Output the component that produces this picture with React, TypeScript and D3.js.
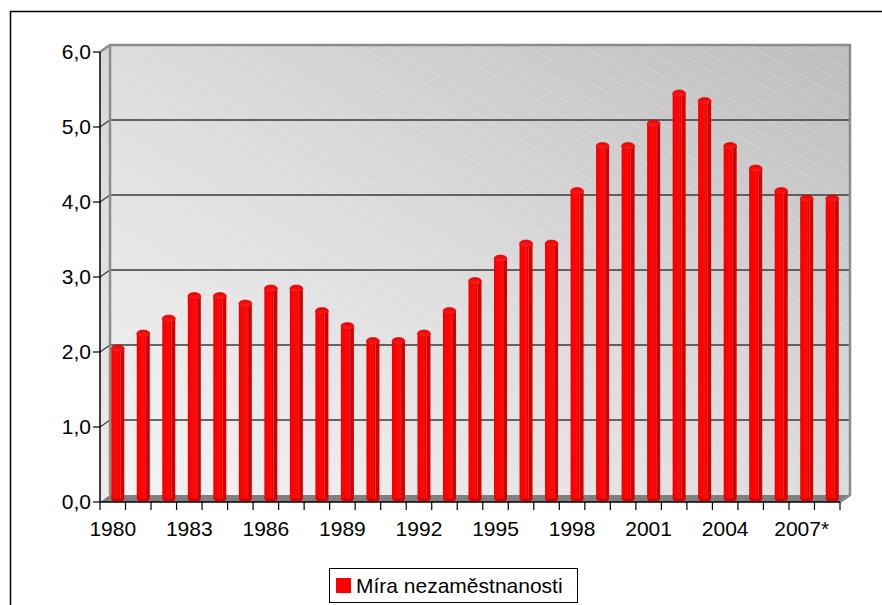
import React from "react";
import * as d3 from "d3";

const categories = [
  "1980","1981","1982","1983","1984","1985","1986","1987","1988","1989",
  "1990","1991","1992","1993","1994","1995","1996","1997","1998","1999",
  "2000","2001","2002","2003","2004","2005","2006","2007*","2008*",
];
const values = [
  2.0, 2.2, 2.4, 2.7, 2.7, 2.6, 2.8, 2.8, 2.5, 2.3,
  2.1, 2.1, 2.2, 2.5, 2.9, 3.2, 3.4, 3.4, 4.1, 4.7,
  4.7, 5.0, 5.4, 5.3, 4.7, 4.4, 4.1, 4.0, 4.0,
];
const yTicks = [0, 1, 2, 3, 4, 5, 6];
const seriesName = "Míra nezaměstnanosti";

const W = 882;
const H = 605;
const X0 = 100;
const X1 = 840;
const Y0 = 502;
const Y1 = 52;
const DX = 10;
const DY = -7;
const FONT = "'Liberation Sans', Arial, Helvetica, sans-serif";

export default function App() {
  const x = d3.scaleBand<string>().domain(categories).range([X0, X1]).padding(0);
  const y = d3.scaleLinear().domain([0, 6]).range([Y0, Y1]);
  const bw = x.bandwidth();
  const barW = 13;
  const rx = barW / 2;
  const ry = 3.5;
  const fmt = (v: number) => v.toFixed(1).replace(".", ",");

  return (
    <svg
      width={W}
      height={H}
      style={{ position: "absolute", left: 0, top: 0, display: "block", background: "#fff" }}
      fontFamily={FONT}
    >
      <defs>
        <linearGradient id="wallGrad" x1="0" y1="1" x2="1" y2="0">
          <stop offset="0" stopColor="#f4f4f4" />
          <stop offset="0.5" stopColor="#dcdcdc" />
          <stop offset="1" stopColor="#bebebe" />
        </linearGradient>
        <linearGradient id="sideGrad" x1="0" y1="1" x2="0" y2="0">
          <stop offset="0" stopColor="#ececec" />
          <stop offset="1" stopColor="#d6d6d6" />
        </linearGradient>
        <pattern
          id="hatch"
          patternUnits="userSpaceOnUse"
          width="40"
          height="14"
          patternTransform="rotate(30)"
        >
          <line x1="0" y1="0.5" x2="40" y2="0.5" stroke="#ffffff" strokeOpacity="0.3" strokeWidth="1" strokeDasharray="3 2" />
        </pattern>
        <linearGradient id="barGrad" x1="0" y1="0" x2="1" y2="0">
          <stop offset="0" stopColor="#e00000" />
          <stop offset="0.12" stopColor="#ff0000" />
          <stop offset="0.58" stopColor="#ff0a0a" />
          <stop offset="0.62" stopColor="#d20000" />
          <stop offset="0.7" stopColor="#e63a3a" />
          <stop offset="0.76" stopColor="#d00000" />
          <stop offset="1" stopColor="#dc0000" />
        </linearGradient>
        <linearGradient id="capGrad" x1="0" y1="0" x2="0" y2="1">
          <stop offset="0" stopColor="#e80000" />
          <stop offset="1" stopColor="#ff2020" />
        </linearGradient>
      </defs>

      {/* outer border */}
      <rect x={10.5} y={11.5} width={W + 20} height={H + 20} fill="none" stroke="#000" strokeWidth={1.5} />

      {/* back wall */}
      <rect x={X0 + DX} y={Y1 + DY} width={X1 - X0} height={Y0 - Y1} fill="url(#wallGrad)" />
      <rect x={X0 + DX} y={Y1 + DY} width={X1 - X0} height={Y0 - Y1} fill="url(#hatch)" />

      {/* left side wall */}
      <polygon
        points={`${X0},${Y0} ${X0},${Y1} ${X0 + DX},${Y1 + DY} ${X0 + DX},${Y0 + DY}`}
        fill="url(#sideGrad)"
      />

      {/* floor */}
      <polygon
        points={`${X0},${Y0} ${X0 + DX},${Y0 + DY} ${X1 + DX},${Y0 + DY} ${X1},${Y0}`}
        fill="#808080"
      />

      {/* gridlines */}
      {yTicks.filter((t) => t > 0 && t < 6).map((t) => (
        <g key={`g${t}`}>
          <line x1={X0 + DX} x2={X1 + DX} y1={y(t) + DY} y2={y(t) + DY} stroke="#3a3a3a" strokeWidth={1.5} />
          <line x1={X0} x2={X0 + DX} y1={y(t)} y2={y(t) + DY} stroke="#3a3a3a" strokeWidth={1.2} />
        </g>
      ))}

      {/* wall borders */}
      <polyline
        points={`${X0},${Y1} ${X0 + DX},${Y1 + DY} ${X1 + DX},${Y1 + DY} ${X1 + DX},${Y0 + DY} ${X1},${Y0}`}
        fill="none"
        stroke="#8c8c8c"
        strokeWidth={2.5}
      />
      <line x1={X0 + DX} x2={X0 + DX} y1={Y1 + DY} y2={Y0 + DY} stroke="#8c8c8c" strokeWidth={2.5} />

      {/* bars */}
      {categories.map((c, i) => {
        const cx = (x(c) as number) + bw / 2 + DX / 2;
        const base = Y0 + DY / 2;
        const top = y(values[i]) + DY / 2;
        return (
          <g key={c}>
            <ellipse cx={cx} cy={base} rx={rx} ry={ry} fill="#d80000" />
            <rect x={cx - rx} y={top} width={barW} height={base - top} fill="url(#barGrad)" />
            <ellipse cx={cx} cy={top} rx={rx} ry={ry} fill="url(#capGrad)" stroke="#e40000" strokeWidth={0.6} />
          </g>
        );
      })}

      {/* y axis */}
      <line x1={X0} x2={X0} y1={Y1} y2={Y0} stroke="#000" strokeWidth={1.5} />
      {yTicks.map((t) => (
        <g key={`yt${t}`}>
          <line x1={X0 - 7} x2={X0} y1={y(t)} y2={y(t)} stroke="#000" strokeWidth={1.2} />
          <text x={X0 - 9} y={y(t) + 7} textAnchor="end" fontSize={21} fill="#000">
            {fmt(t)}
          </text>
        </g>
      ))}

      {/* x axis */}
      <line x1={X0} x2={X1} y1={Y0} y2={Y0} stroke="#000" strokeWidth={1.5} />
      {[...categories.map((c) => x(c) as number), X1].map((px, i) => (
        <line key={`xt${i}`} x1={px} x2={px} y1={Y0} y2={Y0 + 8} stroke="#000" strokeWidth={1.2} />
      ))}
      {categories.map((c, i) =>
        i % 3 === 0 ? (
          <text key={`xl${c}`} x={(x(c) as number) + bw / 2} y={536} textAnchor="middle" fontSize={21} fill="#000">
            {c}
          </text>
        ) : null
      )}

      {/* legend */}
      <rect x={329.5} y={568.5} width={248} height={34} fill="#fff" stroke="#000" strokeWidth={1} />
      <rect x={336} y={578} width={15} height={15} fill="#ff0000" />
      <text x={356} y={593} fontSize={21} fill="#000">
        {seriesName}
      </text>
    </svg>
  );
}
